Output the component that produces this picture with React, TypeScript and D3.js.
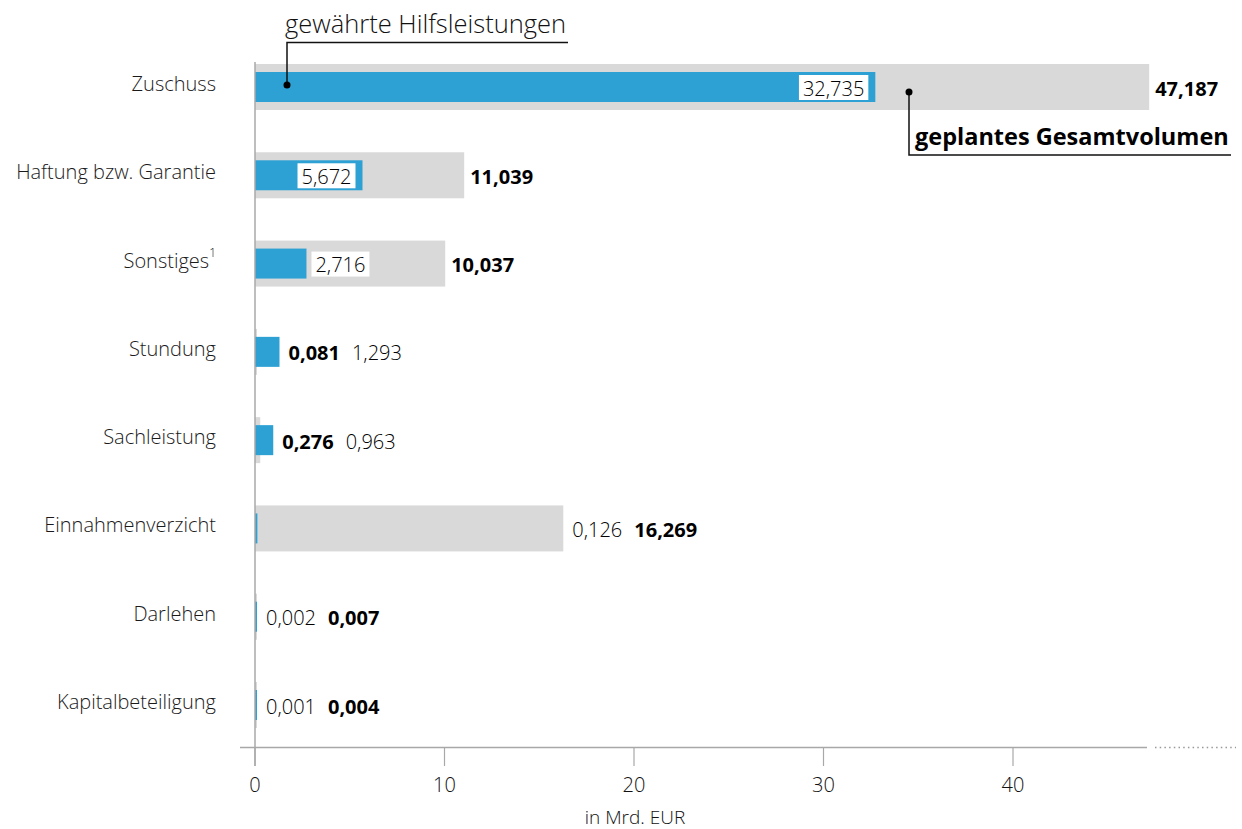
import React, { useEffect, useRef } from 'react';
import * as d3 from 'd3';

const categories = ['Zuschuss', 'Haftung bzw. Garantie', 'Sonstiges', 'Stundung', 'Sachleistung', 'Einnahmenverzicht', 'Darlehen', 'Kapitalbeteiligung'];
const footnotes = ['', '', '1', '', '', '', '', ''];
const granted = [32.735, 5.672, 2.716, 1.293, 0.963, 0.126, 0.002, 0.001];
const planned = [47.187, 11.039, 10.037, 0.081, 0.276, 16.269, 0.007, 0.004];
const xTicks = [0, 10, 20, 30, 40];
const axisTitle = 'in Mrd. EUR';
const legendGranted = 'gewährte Hilfsleistungen';
const legendPlanned = 'geplantes Gesamtvolumen';

const W = 1242;
const H = 829;
const FONT = "'Open Sans', 'Noto Sans', sans-serif";
const BLUE = '#2ea1d4';
const GRAY = '#d9d9d9';
const AXIS = '#a8a8a8';

export default function App() {
  const ref = useRef<SVGSVGElement | null>(null);

  useEffect(() => {
    const svg = d3.select(ref.current);
    svg.selectAll('*').remove();
    const locale = d3.formatLocale({ decimal: ',', thousands: '.', grouping: [3], currency: ['', '€'] });
    const fmt = locale.format('.3f');

    const x = d3.scaleLinear().domain([0, 40]).range([255, 1013]);
    const y = d3.scalePoint<string>().domain(categories).range([87, 705]);

    const gBars = svg.append('g');
    categories.forEach((c, i) => {
      const cy = y(c)!;
      gBars.append('rect')
        .attr('x', x(0)).attr('y', cy - 23)
        .attr('width', Math.max(2, x(planned[i]) - x(0))).attr('height', 46)
        .attr('fill', GRAY);
      gBars.append('rect')
        .attr('x', x(0)).attr('y', cy - 15)
        .attr('width', Math.max(2, x(granted[i]) - x(0))).attr('height', 30)
        .attr('fill', BLUE);
    });

    // axes
    svg.append('line').attr('x1', x(0)).attr('x2', x(0)).attr('y1', 62).attr('y2', 766)
      .attr('stroke', AXIS).attr('stroke-width', 1.5);
    svg.append('line').attr('x1', 240).attr('x2', 1147).attr('y1', 747.5).attr('y2', 747.5)
      .attr('stroke', AXIS).attr('stroke-width', 1.5);
    svg.append('line').attr('x1', 1155).attr('x2', 1236).attr('y1', 747.5).attr('y2', 747.5)
      .attr('stroke', '#999').attr('stroke-width', 1.5).attr('stroke-dasharray', '1.5,3.2');
    xTicks.forEach(t => {
      svg.append('line').attr('x1', x(t)).attr('x2', x(t)).attr('y1', 747).attr('y2', 766)
        .attr('stroke', AXIS).attr('stroke-width', 1.2);
      svg.append('text').attr('x', x(t)).attr('y', 784).attr('text-anchor', 'middle')
        .attr('dominant-baseline', 'central').attr('font-family', FONT).attr('font-size', 20)
        .attr('font-weight', 300).attr('fill', '#111').text(String(t));
    });
    svg.append('text').attr('x', 635).attr('y', 817).attr('text-anchor', 'middle')
      .attr('dominant-baseline', 'central').attr('font-family', FONT).attr('font-size', 19)
      .attr('font-weight', 300).attr('fill', '#111').text(axisTitle);

    // category labels
    categories.forEach((c, i) => {
      const t = svg.append('text').attr('x', 216).attr('y', y(c)! - 4).attr('text-anchor', 'end')
        .attr('dominant-baseline', 'central').attr('font-family', FONT).attr('font-size', 20)
        .attr('font-weight', 300).attr('fill', '#1a1a1a');
      t.append('tspan').text(c);
      if (footnotes[i]) {
        t.append('tspan').attr('font-size', 12).attr('dy', -8).text(footnotes[i]);
      }
    });

    // value labels
    const lab = (xx: number, cy: number, txt: string, bold: boolean, anchor: string, box: boolean) => {
      const g = svg.append('g');
      const rect = box ? g.append('rect').attr('fill', '#fff') : null;
      const t = g.append('text').attr('x', xx).attr('y', cy + 1).attr('text-anchor', anchor)
        .attr('dominant-baseline', 'central').attr('font-family', FONT).attr('font-size', 20)
        .attr('font-weight', bold ? 700 : 300).attr('fill', '#000').text(txt);
      const w = (t.node() as SVGTextElement).getComputedTextLength();
      if (rect) {
        const left = anchor === 'end' ? xx - w : xx;
        rect.attr('x', left - 4).attr('y', cy - 12).attr('width', w + 8).attr('height', 25);
      }
      return w;
    };

    categories.forEach((c, i) => {
      const cy = y(c)!;
      const gEnd = x(granted[i]);
      const pEnd = x(planned[i]);
      const gw = gEnd - x(0);
      if (gw >= 80) {
        lab(gEnd - 11, cy, fmt(granted[i]), false, 'end', true);
        lab(pEnd + 6, cy, fmt(planned[i]), true, 'start', false);
      } else if (gw >= 20 && pEnd - gEnd > 120) {
        lab(gEnd + 9, cy, fmt(granted[i]), false, 'start', true);
        lab(pEnd + 6, cy, fmt(planned[i]), true, 'start', false);
      } else {
        const items = [
          { v: granted[i], bold: false },
          { v: planned[i], bold: true },
        ].sort((a, b) => a.v - b.v);
        let cx = Math.max(gEnd, pEnd, x(0) + 2) + 9;
        items.forEach(it => {
          const w = lab(cx, cy, fmt(it.v), it.bold, 'start', false);
          cx += w + 12;
        });
      }
    });

    // annotations
    const y0 = y(categories[0])!;
    svg.append('text').attr('x', 285).attr('y', 33).attr('font-family', FONT).attr('font-size', 25.5)
      .attr('font-weight', 300).attr('fill', '#111').text(legendGranted);
    svg.append('path').attr('d', `M568,42.5H287V${y0 - 2}`).attr('fill', 'none')
      .attr('stroke', '#111').attr('stroke-width', 1.5);
    svg.append('circle').attr('cx', 287).attr('cy', y0 - 2).attr('r', 3.5).attr('fill', '#000');

    svg.append('text').attr('x', 915).attr('y', 145).attr('font-family', FONT).attr('font-size', 23.5)
      .attr('font-weight', 700).attr('fill', '#000').text(legendPlanned);
    svg.append('path').attr('d', `M909,${y0 + 5}V155H1231`).attr('fill', 'none')
      .attr('stroke', '#111').attr('stroke-width', 1.5);
    svg.append('circle').attr('cx', 909).attr('cy', y0 + 5).attr('r', 3.5).attr('fill', '#000');
  }, []);

  return (
    <svg ref={ref} width={W} height={H}
      style={{ position: 'absolute', left: 0, top: 0, background: '#fff' }} />
  );
}
